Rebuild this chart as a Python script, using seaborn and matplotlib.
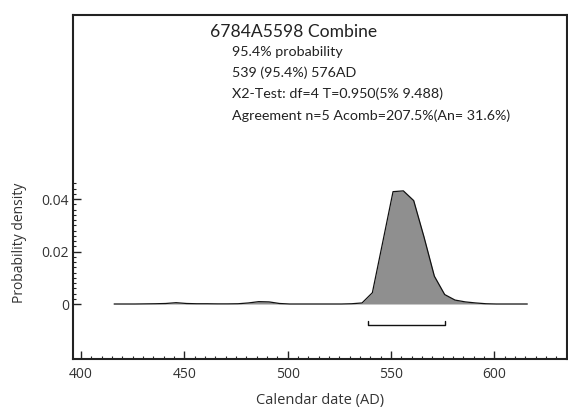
import numpy as np
import pandas as pd
import matplotlib
matplotlib.use("Agg")
import matplotlib.pyplot as plt
import seaborn as sns
from matplotlib.ticker import MultipleLocator, FixedLocator

# ---- data ----
years = [416, 421, 426, 431, 436, 441, 446, 451, 456, 461, 466, 471, 476, 481, 486, 491,
         496, 501, 506, 511, 516, 521, 526, 531, 536, 541, 546, 551, 556, 561, 566, 571,
         576, 581, 586, 591, 596, 601, 606, 611, 616]
density = [0.0, 0.0, 0.0, 0.00005, 0.0001, 0.0002, 0.0005, 0.0002, 0.0001, 0.0001, 0.00005, 0.00005,
           0.0001, 0.0004, 0.0009, 0.0008, 0.0002, 0.0, 0.0, 0.0, 0.0, 0.0, 0.0, 0.0001,
           0.0004, 0.0043, 0.0235, 0.0428, 0.0431, 0.0394, 0.0255, 0.0106, 0.0036, 0.0015,
           0.0008, 0.0004, 0.0001, 0.0, 0.0, 0.0, 0.0]
range_start, range_end = 539, 576
title = "6784A5598 Combine"
info_lines = ["95.4% probability",
              "539 (95.4%) 576AD",
              "X2-Test: df=4 T=0.950(5% 9.488)",
              "Agreement n=5 Acomb=207.5%(An= 31.6%)"]
xticks = [400, 450, 500, 550, 600]
yticks = [0, 0.02, 0.04]
ytick_labels = ["0", "0.02", "0.04"]

df = pd.DataFrame({"year": years, "density": density})

sns.set_style("ticks")
plt.rcParams["font.family"] = ["Lato", "DejaVu Sans"]

W, H = 568, 409
fig = plt.figure(figsize=(W / 100, H / 100), dpi=100)
ax = fig.add_axes([73 / W, 1 - 359 / H, (567 - 73) / W, (359 - 15) / H])

ax.fill_between(df["year"], 0, df["density"], color="#8f8f8f", linewidth=0)
sns.lineplot(data=df, x="year", y="density", ax=ax, color="#111111", linewidth=0.9)

# range bracket
yb, yt = -0.0080, -0.0064
ax.plot([range_start, range_start, range_end, range_end], [yt, yb, yb, yt],
        color="#111111", linewidth=1.0)

ax.set_xlim(396.1, 635.2)
ax.set_ylim(-0.02095, 0.1101)

ax.xaxis.set_major_locator(FixedLocator(xticks))
ax.xaxis.set_minor_locator(MultipleLocator(5))
ax.yaxis.set_major_locator(FixedLocator(yticks))
ax.set_yticklabels(ytick_labels)
ax.yaxis.set_minor_locator(FixedLocator(np.arange(0.002, 0.0461, 0.002)))

for side in ["left", "right", "top", "bottom"]:
    ax.spines[side].set_visible(True)
    ax.spines[side].set_linewidth(1.5)
    ax.spines[side].set_color("#222222")

ax.tick_params(axis="both", which="major", direction="in", length=5.5, width=1.0,
               color="#222222", labelsize=10, labelcolor="#333333")
ax.tick_params(axis="both", which="minor", direction="in", length=2.5, width=0.8,
               color="#222222")
ax.tick_params(axis="x", which="major", pad=6)
ax.tick_params(axis="y", which="major", pad=3)
ax.tick_params(axis="y", which="both", right=False)
ax.tick_params(axis="x", which="both", top=False)

for lab in ax.get_xticklabels() + ax.get_yticklabels():
    lab.set_family(["Open Sans", "DejaVu Sans"])

ax.set_xlabel("Calendar date (AD)", fontsize=10.5, color="#333333",
              family=["Open Sans", "DejaVu Sans"], labelpad=8)
ax.set_ylabel("Probability density", fontsize=10, color="#333333",
              family=["Open Sans", "DejaVu Sans"])
ax.yaxis.set_label_coords(-0.094, 0.337)

fig.text(294 / W, 1 - 37 / H, title, ha="center", va="baseline", fontsize=12.6, color="#222222")
for i, line in enumerate(info_lines):
    base = [55.5, 77, 98.5, 120][i]
    fig.text(232 / W, 1 - base / H, line, ha="left", va="baseline", fontsize=10.3, color="#222222")

fig.savefig("out.png", dpi=100)
